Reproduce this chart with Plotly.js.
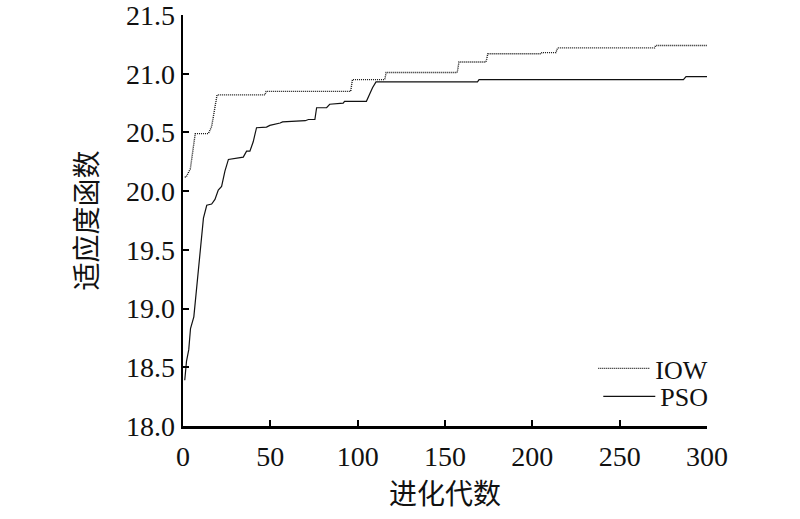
<!DOCTYPE html>
<html>
<head>
<meta charset="utf-8">
<script src="https://cdn.plot.ly/plotly-3.0.1.min.js"></script>
<style>html,body{margin:0;padding:0;background:#fff;}#chart{width:800px;height:519px;}</style>
</head>
<body>
<div id="chart"></div>
<script>
// IOW series (generation, fitness)
const iowGen = [1, 1.8, 4.2, 6, 7, 14.5, 16.4, 18, 19.5, 47, 47.6, 96, 97, 115.5, 116.3, 157, 158, 173.5, 174.5, 205, 205.5, 213.5, 214.5, 270, 270.6, 300];
const iowFit = [20.12, 20.12, 20.19, 20.41, 20.49, 20.49, 20.55, 20.69, 20.82, 20.82, 20.85, 20.85, 20.95, 20.95, 21.01, 21.01, 21.10, 21.10, 21.17, 21.17, 21.18, 21.18, 21.22, 21.22, 21.24, 21.24];
// PSO series (generation, fitness)
const psoGen = [1, 2, 3.3, 4.3, 6.2, 7.7, 9, 10.4, 11.7, 13.6, 16.4, 18.3, 20.2, 22.1, 24, 26, 29.8, 34.5, 36.4, 38.3, 40.2, 42.1, 47.8, 49.7, 55.6, 57, 70, 71.8, 75.5, 76.5, 82.2, 84, 91.7, 92.5, 105, 106.5, 108.5, 110.5, 168.6, 169.5, 286.5, 288, 300];
const psoFit = [18.39, 18.55, 18.65, 18.83, 18.93, 19.16, 19.39, 19.58, 19.77, 19.88, 19.89, 19.93, 20.01, 20.04, 20.17, 20.27, 20.28, 20.29, 20.34, 20.34, 20.42, 20.54, 20.545, 20.56, 20.58, 20.59, 20.60, 20.61, 20.61, 20.71, 20.71, 20.74, 20.75, 20.765, 20.765, 20.82, 20.88, 20.93, 20.93, 20.95, 20.95, 20.975, 20.975];
const xTicks = [0, 50, 100, 150, 200, 250, 300];
const yTicks = [18.0, 18.5, 19.0, 19.5, 20.0, 20.5, 21.0, 21.5];
const yTickText = ['18.0', '18.5', '19.0', '19.5', '20.0', '20.5', '21.0', '21.5'];

const serif = '"Liberation Serif", serif';
const cjk = '"Noto Sans CJK SC", sans-serif';

const traces = [
  {x: iowGen, y: iowFit, name: 'IOW', mode: 'lines', type: 'scatter',
   line: {color: '#111', width: 1.4, dash: '1px,1px'}, legend: 'legend'},
  {x: psoGen, y: psoFit, name: 'PSO', mode: 'lines', type: 'scatter',
   line: {color: '#111', width: 1.2}, legend: 'legend2'}
];

function axisBase() {
  return {
    showgrid: false, zeroline: false, showline: true, linecolor: '#000', linewidth: 2.5,
    ticks: 'inside', ticklen: 6, tickwidth: 2, tickcolor: '#000',
    ticklabeloverflow: 'allow',
    tickfont: {family: serif, size: 28, color: '#111'}
  };
}

const layout = {
  width: 800, height: 519,
  margin: {l: 183, r: 93, t: 15, b: 93},
  paper_bgcolor: '#fff', plot_bgcolor: '#fff',
  showlegend: true,
  xaxis: Object.assign(axisBase(), {
    range: [0, 300], tickvals: xTicks, ticktext: xTicks.map(String), ticklabelstandoff: 4,
    title: {text: '进化代数', font: {family: cjk, size: 28, color: '#111'}, standoff: 10}
  }),
  yaxis: Object.assign(axisBase(), {
    range: [18, 21.5], tickvals: yTicks, ticktext: yTickText,
    title: {text: '适应度函数', font: {family: cjk, size: 28, color: '#111'}, standoff: 20}
  }),
  legend: {x: 1.012, xanchor: 'right', y: 0.14, yanchor: 'middle', bgcolor: 'rgba(0,0,0,0)',
    borderwidth: 0, itemwidth: 52, font: {family: serif, size: 26, color: '#111'}},
  legend2: {x: 1.012, xanchor: 'right', y: 0.072, yanchor: 'middle', bgcolor: 'rgba(0,0,0,0)',
    borderwidth: 0, itemwidth: 52, font: {family: serif, size: 26, color: '#111'}}
};

Plotly.newPlot('chart', traces, layout, {displayModeBar: false, staticPlot: true});
</script>
</body>
</html>
